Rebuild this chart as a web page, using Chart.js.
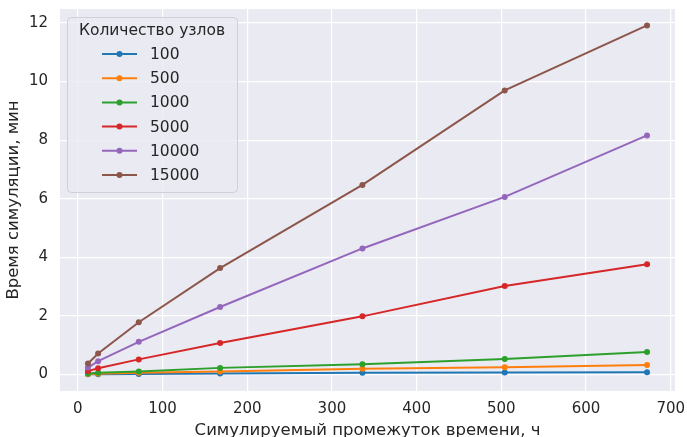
<!DOCTYPE html>
<html>
<head>
<meta charset="utf-8">
<script src="https://cdn.jsdelivr.net/npm/chart.js@4/dist/chart.umd.min.js"></script>
<style>
  html, body { margin: 0; padding: 0; background: #fff; }
  #wrap { width: 687px; height: 437px; }
</style>
</head>
<body>
<div id="wrap"><canvas id="chart"></canvas></div>
<script>
// simulated period, hours
const hours = [12, 24, 72, 168, 336, 504, 672];
// simulation time, minutes, per node count
const nodes100   = [0.003, 0.005, 0.01, 0.03, 0.05, 0.06, 0.07];
const nodes500   = [0.01, 0.02, 0.05, 0.10, 0.19, 0.24, 0.32];
const nodes1000  = [0.03, 0.05, 0.10, 0.22, 0.34, 0.52, 0.76];
const nodes5000  = [0.11, 0.21, 0.51, 1.07, 1.98, 3.02, 3.76];
const nodes10000 = [0.23, 0.45, 1.11, 2.30, 4.30, 6.06, 8.16];
const nodes15000 = [0.37, 0.71, 1.78, 3.63, 6.47, 9.70, 11.92];

const seriesLabels = ['100', '500', '1000', '5000', '10000', '15000'];
const seriesValues = [nodes100, nodes500, nodes1000, nodes5000, nodes10000, nodes15000];
const colors = ['#1f77b4', '#ff7f0e', '#2ca02c', '#d62728', '#9467bd', '#8c564b'];

const xTicks = [0, 100, 200, 300, 400, 500, 600, 700];
const yTicks = [0, 2, 4, 6, 8, 10, 12];

const FONT = "'DejaVu Sans', sans-serif";
const TEXT = '#262626';

var datasets = [];
for (var i = 0; i < seriesValues.length; i++){
    datasets.push({
        label: seriesLabels[i],
        data: hours.map((h, j) => ({x: h, y: seriesValues[i][j]})),
        borderColor: colors[i],
        backgroundColor: colors[i],
        borderWidth: 2,
        pointRadius: 3,
        pointBorderWidth: 0,
        tension: 0,
        order: seriesValues.length - i
    });
}

// grey plot background, seaborn style
const bgPlugin = {
    id: 'bg',
    beforeDraw(chart){
        const a = chart.chartArea;
        const ctx = chart.ctx;
        ctx.save();
        ctx.fillStyle = '#eaeaf2';
        ctx.fillRect(a.left, a.top, a.right - a.left, a.bottom - a.top);
        ctx.restore();
    }
};

// legend drawn inside the plot, upper left
const legendPlugin = {
    id: 'innerLegend',
    afterDatasetsDraw(chart){
        const a = chart.chartArea;
        const ctx = chart.ctx;
        const x = a.left + 7, y = a.top + 8, w = 170, h = 175;
        ctx.save();
        ctx.beginPath();
        ctx.roundRect(x + 0.5, y + 0.5, w, h, 4);
        ctx.fillStyle = 'rgba(234,234,242,0.8)';
        ctx.fill();
        ctx.strokeStyle = '#cfcfd6';
        ctx.lineWidth = 1;
        ctx.stroke();

        ctx.fillStyle = TEXT;
        ctx.font = '15.5px ' + FONT;
        ctx.textBaseline = 'middle';
        ctx.textAlign = 'center';
        ctx.fillText('Количество узлов', x + w / 2, y + 14);
        ctx.textAlign = 'left';
        chart.data.datasets.forEach((ds, i) => {
            const ry = y + 37 + i * 24.2;
            ctx.strokeStyle = ds.borderColor;
            ctx.lineWidth = 2;
            ctx.beginPath();
            ctx.moveTo(x + 35, ry);
            ctx.lineTo(x + 70, ry);
            ctx.stroke();
            ctx.fillStyle = ds.borderColor;
            ctx.beginPath();
            ctx.arc(x + 52.5, ry, 3, 0, Math.PI * 2);
            ctx.fill();
            ctx.fillStyle = TEXT;
            ctx.fillText(ds.label, x + 83, ry + 1);
        });
        ctx.restore();
    }
};

new Chart(document.getElementById('chart'), {
    type: 'line',
    data: { datasets: datasets },
    options: {
        responsive: true,
        maintainAspectRatio: false,
        animation: false,
        layout: { padding: { top: 9, right: 12, left: 0, bottom: 0 } },
        plugins: { legend: { display: false }, tooltip: { enabled: false } },
        scales: {
            x: {
                type: 'linear',
                min: -21,
                max: 705,
                afterBuildTicks: axis => { axis.ticks = xTicks.map(v => ({value: v})); },
                afterFit: axis => {
                    axis.height = 46;
                    axis.paddingLeft = 0;
                    axis.paddingRight = 0;
                },
                grid: { color: '#ffffff', lineWidth: 1.2, drawTicks: false },
                border: { display: false },
                ticks: { color: TEXT, font: { family: FONT, size: 15 }, padding: 9, maxRotation: 0 },
                title: {
                    display: true,
                    text: 'Симулируемый промежуток времени, ч',
                    color: TEXT,
                    font: { family: FONT, size: 16.5 },
                    padding: { top: 0, bottom: -4 }
                }
            },
            y: {
                type: 'linear',
                min: -0.57,
                max: 12.48,
                afterBuildTicks: axis => { axis.ticks = yTicks.map(v => ({value: v})); },
                afterFit: axis => {
                    axis.width = 60;
                    axis.paddingTop = 0;
                    axis.paddingBottom = 0;
                },
                grid: { color: '#ffffff', lineWidth: 1.2, drawTicks: false },
                border: { display: false },
                ticks: { color: TEXT, font: { family: FONT, size: 15 }, padding: 12 },
                title: {
                    display: true,
                    text: 'Время симуляции, мин',
                    color: TEXT,
                    font: { family: FONT, size: 16.5 },
                    padding: { top: 4, bottom: 0 }
                }
            }
        }
    },
    plugins: [bgPlugin, legendPlugin]
});
</script>
</body>
</html>
